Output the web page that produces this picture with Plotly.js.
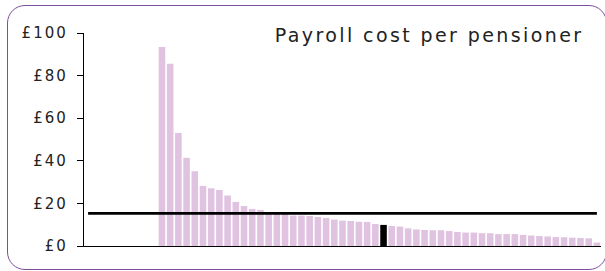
<!DOCTYPE html>
<html>
<head>
<meta charset="utf-8">
<script src="https://cdn.plot.ly/plotly-3.0.1.min.js"></script>
<style>
  html, body { margin: 0; padding: 0; background: #fff; }
  #wrap { position: relative; width: 605px; height: 271px; overflow: hidden; }
  #chart { position: absolute; left: 0; top: 0; width: 605px; height: 271px; }
  #chart .ytick text { letter-spacing: 2px; }
  #chart .annotation-text { letter-spacing: 2.4px; }
  #frame { position: absolute; left: 7px; top: 5px; width: 598px; height: 263px;
           border: 1.5px solid #7b4f9e; border-radius: 18px; pointer-events: none; }
</style>
</head>
<body>
<div id="wrap">
  <div id="chart"></div>
  <div id="frame"></div>
</div>
<script>
// Payroll cost per pensioner (£), one bar per fund, sorted descending.
// The first slots on the axis are empty (no value).
const emptySlots = 9;
const costs = [
  93.4, 85.6, 53.1, 41.4, 35.1, 28.2, 27.1, 26.3, 23.7, 20.7,
  18.8, 17.4, 16.9, 15.9, 15.6, 15.4, 14.3, 14.3, 14.1, 13.6,
  13.2, 12.4, 11.9, 11.75, 11.4, 11.3, 10.3, 9.9, 9.4, 9.1,
  8.3, 7.8, 7.5, 7.4, 7.4, 7.0, 6.6, 6.3, 6.3, 6.0,
  6.0, 5.6, 5.6, 5.6, 5.2, 4.9, 4.7, 4.5, 4.2, 4.1,
  3.9, 3.8, 3.6, 1.6
];
const highlightBar = 27;        // position within costs of the highlighted fund
const averageCost = 15.3;       // horizontal reference line
const yTicks = [0, 20, 40, 60, 80, 100];
const titleText = "Payroll cost per pensioner";

const barColor = "#e0c2e1";
const highlightColor = "#000000";

const values = [];
for (let i = 0; i < emptySlots; i++) values.push(null);
costs.forEach(v => values.push(v));
const categories = values.map((_, i) => "F" + (i + 1));
const colors = values.map((_, i) => (i === emptySlots + highlightBar ? highlightColor : barColor));
const avgLine = categories.map(() => averageCost);

const traces = [
  {
    type: "bar",
    x: categories,
    y: values,
    marker: { color: colors, line: { width: 0 } },
    hoverinfo: "skip"
  },
  {
    type: "scatter",
    mode: "lines",
    x: categories,
    y: avgLine,
    line: { color: "#000000", width: 2.6 },
    hoverinfo: "skip"
  }
];

const layout = {
  width: 605,
  height: 271,
  margin: { l: 84, r: 4, t: 33, b: 25, pad: 0 },
  paper_bgcolor: "rgba(0,0,0,0)",
  plot_bgcolor: "rgba(0,0,0,0)",
  showlegend: false,
  bargap: 0.2,
  font: { family: "DejaVu Sans, Verdana, sans-serif", size: 15, color: "#222222" },
  xaxis: {
    type: "category",
    range: [-0.5, categories.length - 0.5],
    showticklabels: false,
    ticks: "",
    showgrid: false,
    zeroline: false,
    showline: true,
    linecolor: "#000000",
    linewidth: 1.2,
    fixedrange: true
  },
  yaxis: {
    range: [0, 100],
    tickvals: yTicks,
    ticktext: yTicks.map(v => "£" + v),
    ticks: "outside",
    ticklen: 6,
    tickcolor: "#000000",
    tickwidth: 1,
    ticklabelstandoff: 6,
    showgrid: false,
    zeroline: false,
    showline: true,
    linecolor: "#000000",
    linewidth: 1.2,
    tickfont: { family: "DejaVu Sans, Verdana, sans-serif", size: 15, color: "#222222" },
    fixedrange: true
  },
  annotations: [
    {
      text: titleText,
      xref: "paper", yref: "paper",
      x: 0.667, y: 0.99,
      xanchor: "center", yanchor: "middle",
      showarrow: false,
      font: { family: "DejaVu Sans, Verdana, sans-serif", size: 19, color: "#222222" }
    }
  ]
};

Plotly.newPlot("chart", traces, layout, { displayModeBar: false, staticPlot: true });
</script>
</body>
</html>
